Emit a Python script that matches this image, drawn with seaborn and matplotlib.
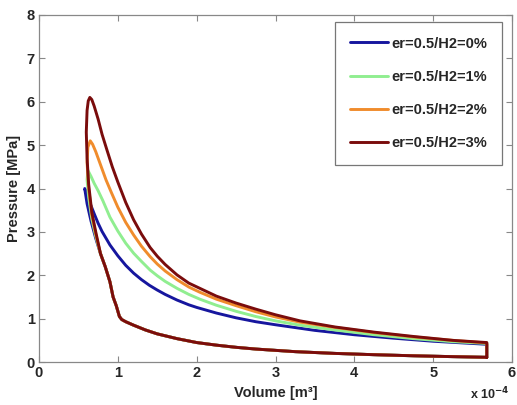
import matplotlib
matplotlib.use("Agg")
import matplotlib.pyplot as plt
import seaborn as sns
import pandas as pd

# Volumes in units of 1e-4 m^3, pressures in MPa
series_names = ["er=0.5/H2=0%", "er=0.5/H2=1%", "er=0.5/H2=2%", "er=0.5/H2=3%"]
series_colors = ["#16169e", "#90ee90", "#f08c2c", "#7a0c0c"]

# shared compression stroke (bottom-right to upper-left)
comp_v = [5.68, 5.25, 4.75, 4.25, 3.75, 3.25, 2.75, 2.50, 2.25, 2.00, 1.75, 1.50, 1.35, 1.20, 1.10, 1.05, 1.02, 0.98, 0.94, 0.90, 0.84]
comp_p = [0.11, 0.125, 0.145, 0.17, 0.20, 0.24, 0.30, 0.34, 0.39, 0.45, 0.54, 0.65, 0.74, 0.85, 0.93, 0.98, 1.05, 1.30, 1.50, 1.85, 2.20]

# late compression + combustion + expansion for each case
h0_v = [0.78, 0.72, 0.66, 0.61, 0.58, 0.60, 0.65, 0.70, 0.75, 0.80, 0.90, 1.00, 1.10, 1.20, 1.30, 1.40, 1.50, 1.60, 1.75, 1.90, 2.00, 2.25, 2.50, 2.75, 3.00, 3.50, 4.00, 4.50, 5.00, 5.68]
h0_p = [2.50, 2.85, 3.25, 3.65, 4.00, 3.90, 3.65, 3.42, 3.20, 3.01, 2.70, 2.45, 2.23, 2.05, 1.90, 1.77, 1.66, 1.56, 1.43, 1.32, 1.26, 1.13, 1.02, 0.93, 0.86, 0.73, 0.63, 0.55, 0.48, 0.41]

h1_v = [0.78, 0.72, 0.67, 0.63, 0.61, 0.62, 0.66, 0.70, 0.75, 0.81, 0.90, 1.00, 1.10, 1.20, 1.30, 1.41, 1.50, 1.60, 1.75, 1.90, 2.04, 2.25, 2.50, 2.75, 3.00, 3.31, 3.75, 4.25, 4.75, 5.25, 5.68]
h1_p = [2.50, 2.90, 3.30, 3.80, 4.20, 4.42, 4.28, 4.12, 3.95, 3.72, 3.34, 3.02, 2.74, 2.51, 2.32, 2.12, 1.99, 1.86, 1.70, 1.56, 1.45, 1.31, 1.17, 1.05, 0.95, 0.85, 0.74, 0.63, 0.54, 0.47, 0.43]

h2_v = [0.78, 0.72, 0.67, 0.63, 0.61, 0.62, 0.65, 0.68, 0.72, 0.78, 0.85, 0.92, 1.00, 1.10, 1.20, 1.30, 1.41, 1.50, 1.60, 1.75, 1.90, 2.04, 2.25, 2.50, 2.75, 3.00, 3.31, 3.75, 4.25, 4.75, 5.25, 5.68]
h2_p = [2.50, 2.95, 3.40, 4.00, 4.60, 4.95, 5.10, 5.02, 4.85, 4.55, 4.20, 3.90, 3.57, 3.22, 2.93, 2.67, 2.43, 2.26, 2.10, 1.90, 1.73, 1.61, 1.45, 1.30, 1.16, 1.04, 0.92, 0.80, 0.68, 0.58, 0.50, 0.44]

h3_v = [0.78, 0.72, 0.67, 0.63, 0.61, 0.60, 0.61, 0.625, 0.645, 0.67, 0.70, 0.75, 0.80, 0.86, 0.93, 1.00, 1.10, 1.20, 1.30, 1.41, 1.50, 1.60, 1.75, 1.90, 2.04, 2.25, 2.50, 2.75, 3.00, 3.31, 3.75, 4.25, 4.75, 5.25, 5.68]
h3_p = [2.50, 3.00, 3.45, 4.10, 4.70, 5.30, 5.80, 6.02, 6.10, 6.05, 5.90, 5.60, 5.25, 4.90, 4.50, 4.15, 3.68, 3.28, 2.95, 2.64, 2.44, 2.25, 2.01, 1.82, 1.70, 1.52, 1.36, 1.22, 1.09, 0.95, 0.81, 0.69, 0.59, 0.50, 0.45]

upper_v = [h0_v, h1_v, h2_v, h3_v]
upper_p = [h0_p, h1_p, h2_p, h3_p]

x_ticks = [0, 1, 2, 3, 4, 5, 6]
y_ticks = [0, 1, 2, 3, 4, 5, 6, 7, 8]

rows = []
for name, uv, up in zip(series_names, upper_v, upper_p):
    vs = comp_v + uv + [comp_v[0]]
    ps = comp_p + up + [comp_p[0]]
    for i, (v, p) in enumerate(zip(vs, ps)):
        rows.append({"series": name, "order": i, "V": v, "P": p})
df = pd.DataFrame(rows)

sns.set_style("white")
plt.rcParams["font.family"] = ["Liberation Sans", "DejaVu Sans"]
plt.rcParams["font.weight"] = "bold"

fig = plt.figure(figsize=(5.17, 4.05), dpi=100)
ax = fig.add_axes([0.0754, 0.106, 0.915, 0.857])

sns.lineplot(data=df, x="V", y="P", hue="series", hue_order=series_names,
             palette=series_colors, sort=False, estimator=None, linewidth=2.1,
             ax=ax, legend=False)
for ln in ax.get_lines():
    ln.set_solid_joinstyle("round")
    ln.set_solid_capstyle("round")

ax.set_xlim(0, 6)
ax.set_ylim(0, 8)
ax.set_xticks(x_ticks)
ax.set_yticks(y_ticks)
ax.set_xticklabels([str(t) for t in x_ticks], fontsize=10.5, fontweight="bold")
ax.set_yticklabels([str(t) for t in y_ticks], fontsize=10.5, fontweight="bold")
ax.tick_params(direction="in", length=4, width=0.8, color="#888888",
               top=True, right=True, bottom=True, left=True, pad=3)
for s in ax.spines.values():
    s.set_visible(True)
    s.set_color("#888888")
    s.set_linewidth(0.9)

ax.set_xlabel("Volume [m³]", fontsize=10.5, fontweight="bold", labelpad=4)
ax.set_ylabel("Pressure [MPa]", fontsize=10.5, fontweight="bold", labelpad=4)

fig.text(0.986, 0.006, r"x 10$^{-4}$", ha="right", va="bottom", fontsize=9,
         fontweight="bold")

handles = [plt.Line2D([], [], color=c, linewidth=2.1) for c in series_colors]
leg = ax.legend(handles, series_names, loc="upper right",
                bbox_to_anchor=(0.979, 0.98), borderaxespad=0,
                prop={"size": 10.5, "weight": "bold"},
                handlelength=2.6, handletextpad=0.25, labelspacing=1.32,
                borderpad=1.0, fancybox=False, framealpha=1)
leg.get_frame().set_edgecolor("#777777")
leg.get_frame().set_linewidth(0.9)

fig.savefig("out.png", dpi=100)
